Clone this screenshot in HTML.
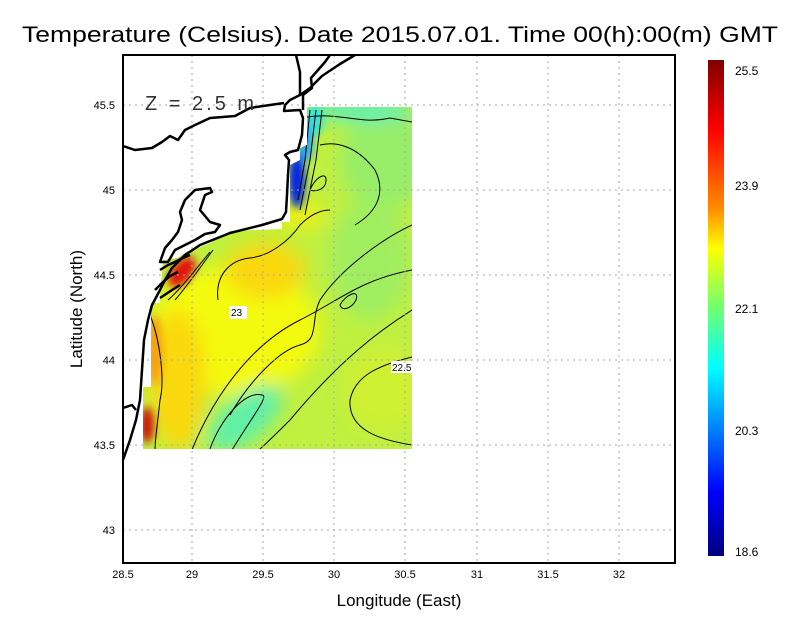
<!DOCTYPE html>
<html><head><meta charset="utf-8"><style>
body{margin:0;background:#fff;}
svg{display:block;font-family:"Liberation Sans",sans-serif;}
</style></head><body>
<svg width="800" height="618" viewBox="0 0 800 618">
<defs>
<linearGradient id="cb" x1="0" y1="0" x2="0" y2="1">
<stop offset="0" stop-color="#800000"/><stop offset="0.14" stop-color="#ff0000"/>
<stop offset="0.3" stop-color="#ff8c00"/><stop offset="0.38" stop-color="#ffff00"/>
<stop offset="0.5" stop-color="#70ff70"/><stop offset="0.62" stop-color="#00ffff"/>
<stop offset="0.87" stop-color="#0000ff"/><stop offset="1" stop-color="#000080"/>
</linearGradient>
<clipPath id="dc"><polygon points="143,449 143,387 151,387 151,303 160,303 160,296 163,260 178,258 186,252 200,247 210,243 230,231 282,229 282,222 290,222 290,165 300,160 300,148 307,145 307,107 412,107 412,449"/></clipPath>
<filter id="bl"><feGaussianBlur stdDeviation="9"/></filter>
<filter id="bl2"><feGaussianBlur stdDeviation="4"/></filter>
</defs>
<text x="22" y="42" font-size="22" textLength="756" lengthAdjust="spacingAndGlyphs">Temperature (Celsius). Date 2015.07.01. Time 00(h):00(m)  GMT</text>
<g clip-path="url(#dc)">
<rect x="140" y="100" width="280" height="360" fill="#c0f040"/>
<g filter="url(#bl)">
<ellipse cx="235" cy="330" rx="85" ry="65" fill="#f4fa08"/>
<ellipse cx="178" cy="380" rx="28" ry="70" fill="#fad810"/>
<ellipse cx="265" cy="270" rx="40" ry="28" fill="#fad810"/>
<ellipse cx="300" cy="215" rx="25" ry="12" fill="#f0f010"/>
<ellipse cx="245" cy="418" rx="45" ry="22" fill="#60f0a8" transform="rotate(-40 245 418)"/>
<ellipse cx="385" cy="160" rx="45" ry="50" fill="#98ee68"/>
<ellipse cx="370" cy="260" rx="40" ry="60" fill="#a0ee60"/>
<ellipse cx="360" cy="110" rx="55" ry="12" fill="#60f0b0"/>
<ellipse cx="385" cy="390" rx="40" ry="40" fill="#d0f030"/>
</g>
<g filter="url(#bl2)">
<ellipse cx="182" cy="272" rx="18" ry="10" fill="#e01808" transform="rotate(-50 182 272)"/>
<ellipse cx="147" cy="425" rx="7" ry="18" fill="#c81808"/>
<ellipse cx="155" cy="350" rx="8" ry="35" fill="#f8a010"/>
<ellipse cx="297" cy="180" rx="8" ry="28" fill="#0020e8"/>
<ellipse cx="306" cy="140" rx="7" ry="22" fill="#20a0ff"/>
<ellipse cx="315" cy="120" rx="8" ry="15" fill="#30e0e0"/>
</g>
<g fill="none" stroke="#000" stroke-width="1">
<path d="M230,415 C250,380 280,350 300,345 C320,340 310,320 320,300 C340,270 380,240 412,225"/>
<path d="M185,470 C200,420 240,350 300,320 C340,300 360,280 412,270"/>
<path d="M218,300 C215,275 230,260 250,258 C270,256 290,240 300,225 C310,215 320,210 330,210"/>
<path d="M232,450 C250,420 270,395 262,395 C245,390 220,420 210,449"/>
<path d="M412,310 C380,330 340,360 290,420 C280,430 270,440 260,449"/>
<path d="M412,445 C380,440 348,430 350,400 C355,375 380,365 412,357"/>
<path d="M150,315 C160,340 165,380 160,400 C158,420 155,440 155,449"/>
<path d="M307,117 C340,112 360,125 390,118 L412,122"/>
<path d="M320,145 C340,140 360,150 375,170 C385,190 380,210 355,225"/>
<path d="M310,190 C316,175 330,170 325,185 C322,190 315,192 310,190"/>
<path d="M340,305 C345,295 360,288 356,300 C352,308 342,312 340,305"/>
<path d="M310,110 L305,160 L298,200 M316,110 L310,160 L300,210 M322,110 L316,160 L305,215"/>
<path d="M168,300 C180,290 195,270 210,252 M175,300 C188,285 200,268 213,250"/>
</g>
</g>
<rect x="229" y="306" width="18" height="13" fill="#fff"/>
<text x="231" y="316" font-size="10">23</text>
<rect x="391" y="361" width="22" height="12" fill="#fff"/>
<text x="392" y="371" font-size="10">22.5</text>
<g stroke="#aaa" stroke-width="1" stroke-dasharray="2,4">
<line x1="192" y1="55" x2="192" y2="563"/><line x1="263" y1="55" x2="263" y2="563"/>
<line x1="334" y1="55" x2="334" y2="563"/><line x1="405" y1="55" x2="405" y2="563"/>
<line x1="477" y1="55" x2="477" y2="563"/><line x1="548" y1="55" x2="548" y2="563"/>
<line x1="619" y1="55" x2="619" y2="563"/>
<line x1="123" y1="105" x2="675" y2="105"/><line x1="123" y1="190" x2="675" y2="190"/>
<line x1="123" y1="275" x2="675" y2="275"/><line x1="123" y1="360" x2="675" y2="360"/>
<line x1="123" y1="445" x2="675" y2="445"/><line x1="123" y1="530" x2="675" y2="530"/>
</g>
<g fill="none" stroke="#000" stroke-width="2.5" stroke-linejoin="round">
<path d="M123,460 L130,440 L136,420 L140,400 L142,370 L144,340 L148,320 L152,305 L160,290 L165,280 L172,268 L185,255 L200,245 L230,233 L262,225 L282,219 L286,212 L287,195 L288,175 L289,160 L285,155 L290,152 L298,150 L302,135 L303,118 L300,110 L284,111 L285,105 L290,100 L300,95 L310,88 L322,76 L340,64 L355,55"/>
<path d="M123,146 L135,150 L152,148 L162,142 L170,136 L178,140 L185,130 L195,125 L210,118 L235,116 L250,108 L270,105 L284,103"/>
<path d="M300,96 L300,72 L296,55 M303,110 L303,95 L312,88 L311,78 L318,70 L325,62 L330,55"/>
<path d="M195,240 L205,234 L215,232 L220,225 L210,222 L200,210 L205,195 L212,192 L210,188 L195,190 L185,200 L180,212 L182,220 L178,232 L172,240 L165,248 L160,262 L168,262 L175,250 L185,245 Z"/>
<path d="M160,270 L168,265 L175,262 L183,258 L190,255 M155,290 L163,282 L170,276 L178,272 M160,298 L172,290 L180,285"/>
<path d="M123,408 L132,405 L136,410"/>
</g>
<rect x="123" y="55" width="552" height="508" fill="none" stroke="#000" stroke-width="2"/>
<text x="145" y="110" font-size="20" fill="#333" letter-spacing="3">Z = 2.5 m</text>
<g font-size="11" text-anchor="middle">
<text x="123" y="578">28.5</text><text x="192" y="578">29</text><text x="263" y="578">29.5</text>
<text x="334" y="578">30</text><text x="405" y="578">30.5</text><text x="477" y="578">31</text>
<text x="548" y="578">31.5</text><text x="619" y="578">32</text>
</g>
<g font-size="11" text-anchor="end">
<text x="115" y="109">45.5</text><text x="115" y="194">45</text><text x="115" y="279">44.5</text>
<text x="115" y="364">44</text><text x="115" y="449">43.5</text><text x="115" y="534">43</text>
</g>
<text x="399" y="606" text-anchor="middle" font-size="17">Longitude (East)</text>
<text transform="translate(82,309) rotate(-90)" text-anchor="middle" font-size="17">Latitude (North)</text>
<rect x="708" y="60" width="16" height="496" fill="url(#cb)"/>
<g font-size="12">
<text x="735" y="75">25.5</text><text x="735" y="190">23.9</text><text x="735" y="313">22.1</text>
<text x="735" y="435">20.3</text><text x="735" y="556">18.6</text>
</g>
</svg>
</body></html>
